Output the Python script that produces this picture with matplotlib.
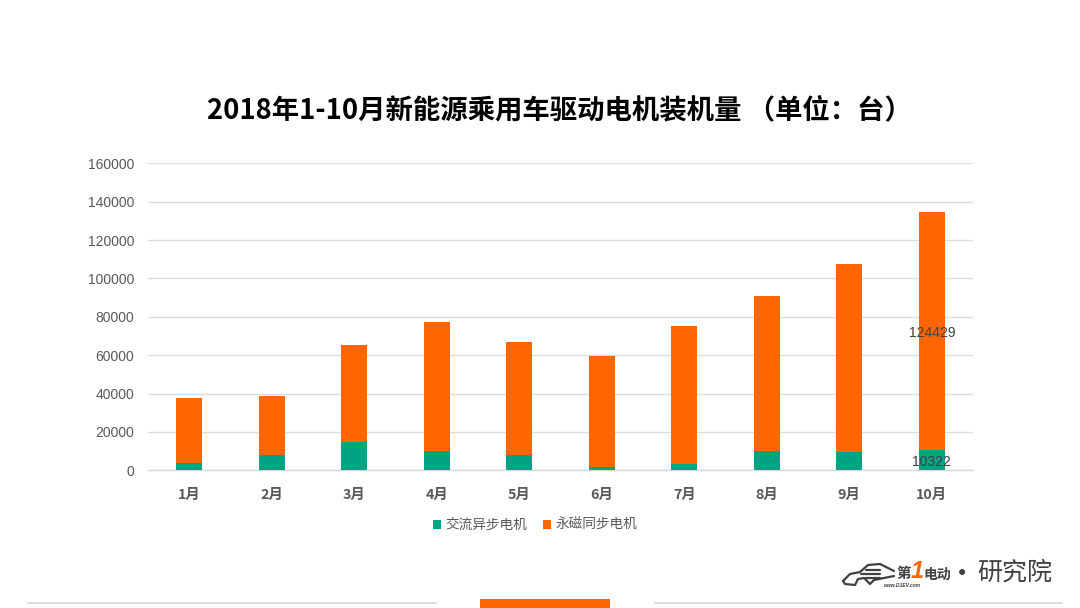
import matplotlib
matplotlib.use("Agg")
import matplotlib.pyplot as plt
from matplotlib.patches import Rectangle
from matplotlib.lines import Line2D

plt.rcParams['font.family'] = ['Noto Sans CJK SC', 'DejaVu Sans']

months = ['1月', '2月', '3月', '4月', '5月', '6月', '7月', '8月', '9月', '10月']
ac_motor = [4000, 8000, 14500, 10000, 8000, 1800, 3300, 10000, 9500, 10322]
pm_motor = [33500, 30500, 51000, 67500, 59000, 57700, 71700, 81000, 98000, 124429]
yticks = [0, 20000, 40000, 60000, 80000, 100000, 120000, 140000, 160000]
series_names = ['交流异步电机', '永磁同步电机']
title = '2018年1-10月新能源乘用车驱动电机装机量 （单位：台）'

W, H = 1080, 608
GREEN, ORANGE = '#00A383', '#FF6600'
TXT = '#595959'
fig = plt.figure(figsize=(W / 100, H / 100), dpi=100, facecolor='white')
ax = fig.add_axes([148 / W, 1 - 470.3 / H, (973 - 148) / W, (470.3 - 163.3) / H])

x = list(range(len(months)))
ax.bar(x, ac_motor, width=0.32, color=GREEN, zorder=3, label=series_names[0])
ax.bar(x, pm_motor, width=0.32, bottom=ac_motor, color=ORANGE, zorder=3, label=series_names[1])

ax.set_xlim(-0.5, 9.5)
ax.set_ylim(0, 160000)
ax.set_yticks(yticks)
ax.set_xticks(x)
ax.set_xticklabels(months, fontsize=10.3, fontweight='bold', color=TXT)
ax.set_yticklabels([str(v) for v in yticks], family=['Liberation Sans'], fontsize=10, color=TXT)
ax.tick_params(axis='both', length=0)
ax.tick_params(axis='x', pad=12.5)
ax.tick_params(axis='y', pad=10)
ax.grid(axis='y', color='#DDDDDD', lw=1, zorder=0)
ax.set_axisbelow(True)
for s in ['top', 'right', 'left']:
    ax.spines[s].set_visible(False)
ax.spines['bottom'].set_color('#D9D9D9')
ax.spines['bottom'].set_linewidth(1)

# data labels on the last month only
for val, pos in [(ac_motor[9], ac_motor[9] / 2), (pm_motor[9], ac_motor[9] + pm_motor[9] / 2)]:
    ax.annotate(str(val), (9, pos), xytext=(0, -1.2), textcoords='offset points', ha='center',
                va='center', fontsize=10, color='#404040', family=['Liberation Sans'], zorder=5)

fig.text(559.5 / W, 1 - 110.5 / H, title, ha='center', va='center', fontsize=19.75,
         fontweight='bold', color='black')

leg = ax.legend(loc='center', bbox_to_anchor=(535 / W, 1 - 525 / H), bbox_transform=fig.transFigure,
                ncol=2, frameon=False, fontsize=9.8, handlelength=0.6, handleheight=0.6,
                handletextpad=0.3, columnspacing=1.15, borderpad=0)
for t in leg.get_texts():
    t.set_color(TXT)

# footer strips
def px_rect(x0, y0, x1, y1, color):
    fig.add_artist(Rectangle((x0 / W, 1 - y1 / H), (x1 - x0) / W, (y1 - y0) / H,
                             transform=fig.transFigure, facecolor=color, edgecolor='none'))

px_rect(27, 601.5, 437, 604, '#DCDCDC')
px_rect(654, 601.5, 1063, 604, '#DCDCDC')
px_rect(480, 598.5, 610, 608, ORANGE)

# logo
LOGO = '#404040'
def px_line(xs, ys, lw=1.4, color=LOGO):
    fig.add_artist(Line2D([v / W for v in xs], [1 - v / H for v in ys], color=color, lw=lw,
                          transform=fig.transFigure, solid_capstyle='round'))

px_line([843, 850, 860, 868, 880, 888, 894], [581, 574, 572, 565, 564, 568, 571], lw=1.6)
px_line([843, 845, 855, 858, 864], [581, 584, 585, 579, 578], lw=1.6)
px_line([864, 870, 874, 894], [578, 584, 580, 576], lw=1.6)
px_line([866, 880], [570, 570], lw=1.6)
px_line([861, 880], [574, 574], lw=1.6)
px_line([866, 880], [578, 578], lw=1.6)
fig.text(903.5 / W, 1 - 573 / H, '第', ha='center', va='center', fontsize=10.5, fontweight='bold',
         color=LOGO, style='italic')
fig.text(917 / W, 1 - 571 / H, '1', ha='center', va='center', fontsize=17, fontweight='bold',
         color=ORANGE, style='italic', family=['Liberation Sans'])
fig.text(937 / W, 1 - 575 / H, '电动', ha='center', va='center', fontsize=10, fontweight='bold',
         color=LOGO, style='italic')
fig.text(902 / W, 1 - 585.5 / H, 'www.D1EV.com', ha='center', va='center', fontsize=3.6,
         fontweight='bold', color=LOGO, style='italic', family=['Liberation Sans'])
fig.text(962 / W, 1 - 574 / H, '•', ha='center', va='center', fontsize=15, color=LOGO,
         family=['DejaVu Sans'])
fig.text(1014.5 / W, 1 - 573 / H, '研究院', ha='center', va='center', fontsize=18, color=LOGO)

fig.savefig('out.png', dpi=100, facecolor='white')
